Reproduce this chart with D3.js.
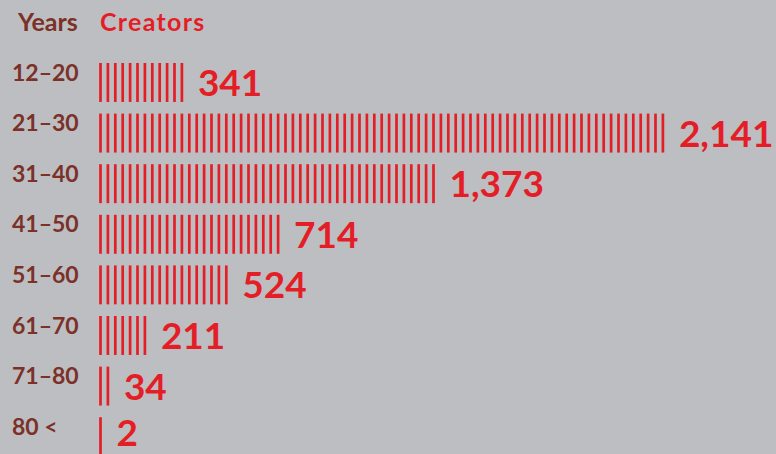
<!DOCTYPE html>
<html>
<head>
<meta charset="utf-8">
<script src="https://cdn.jsdelivr.net/npm/d3@7/dist/d3.min.js"></script>
<style>
  html, body { margin: 0; padding: 0; background: #bdbec2; }
  svg { display: block; }
  text { font-family: Lato, "Open Sans", sans-serif; font-weight: 700; }
</style>
</head>
<body>
<svg id="chart" width="776" height="454"></svg>
<script>
// ---- data ----
const ageGroups  = ["12–20", "21–30", "31–40", "41–50", "51–60", "61–70", "71–80", "80 <"];
const creators   = [341, 2141, 1373, 714, 524, 211, 34, 2];
// number of tally strokes drawn in each row, counted from the picture
const tallyLines = [12, 77, 46, 25, 18, 7, 2, 1];
const headerYears = "Years";
const headerCreators = "Creators";

// ---- layout ----
const W = 776, H = 454;
const red = "#e41e26", brown = "#7b3128";
const svg = d3.select("#chart");

svg.append("rect").attr("width", W).attr("height", H).attr("fill", "#bdbec2");

const maxCount = d3.max(tallyLines);
const spacing = 7.4;
const x = d3.scaleLinear().domain([0, maxCount]).range([100.5, 100.5 + maxCount * spacing]);

const pad = 0.23, step = 50.6;
const y = d3.scaleBand().domain(ageGroups)
  .range([63, 63 + step * (ageGroups.length - pad)])
  .paddingInner(pad).paddingOuter(0);

// headers
svg.append("text").attr("x", 18).attr("y", 30.5).attr("font-size", 25)
  .attr("fill", brown).text(headerYears);
svg.append("text").attr("x", 100).attr("y", 30.5).attr("font-size", 25)
  .attr("fill", red).attr("letter-spacing", 1.3).text(headerCreators);

const rows = svg.selectAll("g.row")
  .data(ageGroups.map((a, i) => ({age: a, value: creators[i], n: tallyLines[i]})))
  .join("g").attr("class", "row");

// age labels
rows.append("text")
  .attr("x", 12)
  .attr("y", d => y(d.age) + 17.5)
  .attr("font-size", 23)
  .attr("fill", brown)
  .text(d => d.age);

// tally lines
rows.each(function(d) {
  d3.select(this).selectAll("line")
    .data(d3.range(d.n))
    .join("line")
    .attr("x1", i => x(i)).attr("x2", i => x(i))
    .attr("y1", y(d.age)).attr("y2", y(d.age) + y.bandwidth())
    .attr("stroke", red)
    .attr("stroke-width", 2.7);
});

// value labels
rows.append("text")
  .attr("x", d => x(d.n - 1) + 16)
  .attr("y", d => Math.min(y(d.age) + y.bandwidth() / 2 + 13.5, H - 8))
  .attr("font-size", 37)
  .attr("fill", red)
  .text(d => d3.format(",")(d.value));
</script>
</body>
</html>
